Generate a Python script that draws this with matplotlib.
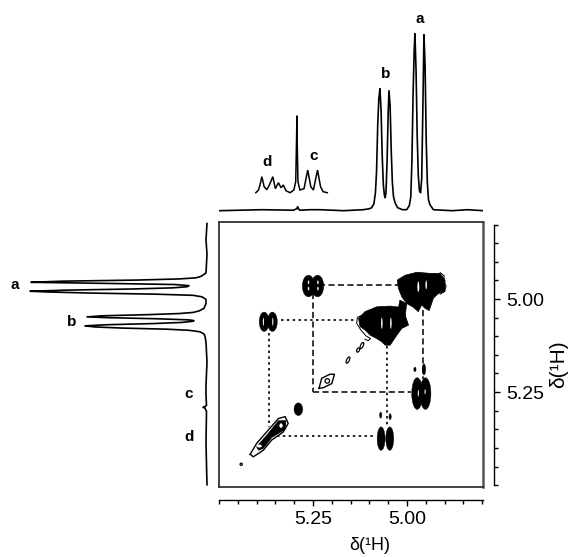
"""2D COSY spectrum with 1H projections on top and on the left."""

import matplotlib

matplotlib.use("Agg")
import matplotlib.pyplot as plt
from matplotlib.patches import Ellipse

plt.rcParams["font.family"] = ["Liberation Sans", "DejaVu Sans"]

W, H = 571, 557

# 1H trace, ppm / height
trace_ppm = [5.499, 5.444, 5.387, 5.302, 5.293, 5.291, 5.289, 5.285, 5.258, 5.231, 5.169, 5.116,
             5.100, 5.094, 5.088, 5.084, 5.081, 5.078, 5.075, 5.072, 5.069, 5.066, 5.063, 5.060, 5.058,
             5.056, 5.053, 5.050, 5.048, 5.045, 5.042, 5.039, 5.036, 5.032, 5.025, 5.012, 5.001,
             4.994, 4.990, 4.987, 4.984, 4.981, 4.979, 4.976, 4.973, 4.970, 4.967, 4.964, 4.961,
             4.958, 4.955, 4.952, 4.949, 4.946, 4.943, 4.939, 4.930, 4.880, 4.840, 4.797]
trace_int = [0, 0.5, 1, 0.5, 2, 4, 2, 0.5, 1, 1, 0, 1,
             2, 3, 7, 18, 40, 85, 112, 122, 100, 55, 26, 15, 13,
             18, 50, 100, 120, 105, 60, 28, 14, 8, 3, 1, 1,
             5, 14, 50, 115, 160, 177, 140, 75, 35, 20, 18, 32,
             100, 176, 145, 70, 28, 11, 6, 1, 0, 1, 0]

# expanded inset of signals c and d
inset_ppm = [5.402, 5.395, 5.391, 5.386, 5.380, 5.373, 5.366, 5.357, 5.350, 5.342, 5.335, 5.329,
             5.322, 5.311, 5.301, 5.296, 5.2935, 5.293, 5.2925, 5.290, 5.285, 5.274, 5.264,
             5.256, 5.249, 5.238, 5.230, 5.223, 5.212]
inset_int = [18, 20.7, 25.7, 34, 24, 21, 25.7, 34, 22, 28, 23, 25.7,
             20, 18, 20.7, 29, 77, 95, 77, 29, 20.7, 22, 40.7,
             24, 20.7, 40.7, 24, 19, 18]

# diagonal blobs, outlines in ppm
blob_a_x = [5.026, 5.005, 4.974, 4.939, 4.912, 4.899, 4.899, 4.917, 4.930, 4.941, 4.952, 4.961,
            4.970, 4.983, 5.001, 5.014, 5.023]
blob_a_y = [4.949, 4.936, 4.928, 4.931, 4.931, 4.949, 4.980, 4.985, 4.998, 5.031, 5.025, 5.016,
            5.034, 5.022, 5.012, 4.994, 4.971]
blob_b_x = [5.129, 5.112, 5.081, 5.045, 5.019, 5.005, 4.996, 5.014, 5.027, 5.045, 5.058, 5.067,
            5.081, 5.098, 5.112, 5.125]
blob_b_y = [5.052, 5.034, 5.021, 5.019, 5.022, 5.043, 5.070, 5.079, 5.097, 5.124, 5.124, 5.115,
            5.106, 5.097, 5.083, 5.074]
bridge_x = [5.019, 5.001, 5.005, 5.023]
bridge_y = [5.003, 5.012, 5.047, 5.025]
rim_x = [5.118, 5.132, 5.134, 5.123, 5.109, 5.097, 5.103, 5.112]
rim_y = [5.043, 5.049, 5.065, 5.083, 5.099, 5.106, 5.112, 5.108]
rim_a_x = [4.912, 4.901, 4.903, 4.896, 4.901, 4.912]
rim_a_y = [4.929, 4.938, 4.951, 4.965, 4.980, 4.987]

# contours on the diagonal
diag_c_x = [5.234, 5.227, 5.205, 5.193, 5.200, 5.222, 5.234]
diag_c_y = [5.240, 5.213, 5.202, 5.202, 5.227, 5.238, 5.240]
diag_d_x = [5.417, 5.400, 5.369, 5.342, 5.324, 5.316, 5.329, 5.360, 5.382, 5.409, 5.417]
diag_d_y = [5.417, 5.388, 5.352, 5.321, 5.316, 5.334, 5.357, 5.379, 5.406, 5.424, 5.417]
diag_d_fill_x = [5.400, 5.373, 5.342, 5.322, 5.324, 5.360, 5.382, 5.395]
diag_d_fill_y = [5.397, 5.366, 5.327, 5.327, 5.350, 5.372, 5.401, 5.406]

# solid lobes: f2 ppm, f1 ppm, width, height
lobe_x = [5.069, 5.046, 5.070, 5.045, 4.973, 4.951, 4.979, 4.955, 5.262, 5.238, 5.380, 5.358, 5.289]
lobe_y = [5.375, 5.375, 5.312, 5.316, 5.254, 5.254, 5.189, 5.189, 4.965, 4.965, 5.061, 5.061, 5.296]
lobe_w = [0.021, 0.021, 0.006, 0.006, 0.029, 0.029, 0.006, 0.009, 0.033, 0.033, 0.026, 0.026, 0.023]
lobe_h = [0.063, 0.063, 0.016, 0.016, 0.085, 0.085, 0.012, 0.030, 0.058, 0.058, 0.052, 0.052, 0.034]

# open contour rings: f2 ppm, f1 ppm, width, height
ring_x = [5.157, 5.130, 5.212, 5.441, 5.120]
ring_y = [5.164, 5.137, 5.220, 5.444, 5.125]
ring_w = [0.007, 0.007, 0.012, 0.006, 0.007]
ring_h = [0.018, 0.012, 0.012, 0.006, 0.018]

# white holes inside the black areas
hole_x = [4.970, 4.949, 5.067, 5.043, 4.970, 4.952, 5.262, 5.262, 5.237, 5.237, 5.335, 5.393, 5.382, 5.357]
hole_y = [4.967, 4.962, 5.065, 5.065, 5.253, 5.249, 4.955, 4.972, 4.955, 4.972, 5.340, 5.395, 5.061, 5.061]
hole_w = [0.005, 0.004, 0.004, 0.004, 0.003, 0.003, 0.004, 0.004, 0.004, 0.004, 0.009, 0.014, 0.003, 0.003]
hole_h = [0.028, 0.024, 0.030, 0.030, 0.018, 0.014, 0.010, 0.010, 0.010, 0.010, 0.012, 0.008, 0.022, 0.022]

# connectivity lines
dashed_x = [[5.235, 5.025], [5.250, 5.250], [5.250, 4.990], [4.958, 4.958]]
dashed_y = [[4.962, 4.962], [4.985, 5.250], [5.250, 5.250], [5.030, 5.215]]
dotted_x = [[5.335, 5.135], [5.367, 5.367], [5.345, 5.085], [5.053, 5.053]]
dotted_y = [[5.056, 5.056], [5.092, 5.345], [5.368, 5.368], [5.125, 5.340]]

major_ticks = [5.25, 5.00]
major_labels = ["5.25", "5.00"]
minor_ticks = [5.50, 5.45, 5.40, 5.35, 5.30, 5.20, 5.15, 5.10, 5.05, 4.95, 4.90, 4.85, 4.80]

top_labels = [("a", 420, 19), ("b", 386, 74), ("d", 267, 162), ("c", 314, 156)]
left_labels = [("a", 15, 285), ("b", 72, 322), ("c", 189, 394), ("d", 189, 437)]

XLIM = (5.50, 4.798)
YLIM = (5.505, 4.793)


def axes_px(fig, x0, y0, x1, y1, **kw):
    return fig.add_axes([x0 / W, 1 - y1 / H, (x1 - x0) / W, (y1 - y0) / H], **kw)


def ellipses(ax, xs, ys, ws, hs, **kw):
    for x, y, w, h in zip(xs, ys, ws, hs):
        ax.add_patch(Ellipse((x, y), w, h, **kw))


fig = plt.figure(figsize=(W / 100, H / 100), dpi=100)

# main 2D panel
ax = axes_px(fig, 219, 222, 483, 487)
ax.set_xlim(XLIM)
ax.set_ylim(YLIM)
ax.set_xticks([])
ax.set_yticks([])
for name, spine in ax.spines.items():
    spine.set_linewidth(1.3)
    spine.set_color("#333333" if name != "right" else "#555555")
ax.spines["right"].set_linewidth(1.8)

for xs, ys in zip(dashed_x, dashed_y):
    ax.plot(xs, ys, color="k", lw=1.1, ls=(0, (4, 2.2)))
for xs, ys in zip(dotted_x, dotted_y):
    ax.plot(xs, ys, color="k", lw=1.2, ls=(0, (1.5, 2)))

ax.fill(blob_a_x, blob_a_y, color="k", lw=0.5, zorder=3)
ax.fill(blob_b_x, blob_b_y, color="k", lw=0.5, zorder=3)
ax.fill(bridge_x, bridge_y, color="k", lw=0.5, zorder=3)
ax.plot(rim_x, rim_y, color="k", lw=0.7, zorder=3)
ax.plot(rim_a_x, rim_a_y, color="k", lw=0.7, zorder=3)
ax.plot(diag_c_x, diag_c_y, color="k", lw=1.0, zorder=3)
ax.plot(diag_d_x, diag_d_y, color="k", lw=1.0, zorder=3)
ax.fill(diag_d_fill_x, diag_d_fill_y, color="k", lw=0.5, zorder=3)
ellipses(ax, lobe_x, lobe_y, lobe_w, lobe_h, fc="k", ec="k", lw=0.3, zorder=3)
ellipses(ax, ring_x, ring_y, ring_w, ring_h, fc="none", ec="k", lw=0.9, angle=-25, zorder=3)
ellipses(ax, hole_x, hole_y, hole_w, hole_h, fc="white", ec="none", zorder=4)

# detached ppm scales
ax_scale = axes_px(fig, 219, 222, 483, 487)
ax_scale.patch.set_visible(False)
for name in ("top", "left"):
    ax_scale.spines[name].set_visible(False)
ax_scale.spines["bottom"].set_linewidth(1.0)
ax_scale.spines["right"].set_linewidth(1.0)
ax_scale.spines["bottom"].set_position(("outward", 9))
ax_scale.spines["right"].set_position(("outward", 8))
ax_scale.yaxis.tick_right()
ax_scale.set_xticks(major_ticks, major_labels, fontsize=14)
ax_scale.set_xticks(minor_ticks, minor=True)
ax_scale.set_yticks(major_ticks, major_labels, fontsize=14)
ax_scale.set_yticks(minor_ticks, minor=True)
ax_scale.tick_params(which="major", length=4.6, width=1.0, pad=4)
ax_scale.tick_params(which="minor", length=3.2, width=1.0)
ax_scale.set_xlim(XLIM)
ax_scale.set_ylim(YLIM)
ax_scale.spines["right"].set_bounds(5.50, 4.80)

fig.text(370 / W, 1 - 546 / H, "δ(¹H)", fontsize=13, ha="center", va="center")
fig.text(559 / W, 1 - 364 / H, "δ(¹H)", fontsize=15, ha="center", va="center", rotation=90)

# top projection
ax_top = axes_px(fig, 219, 0, 483, 222)
ax_top.axis("off")
ax_top.plot(trace_ppm, trace_int, color="k", lw=1.2, solid_joinstyle="round")
ax_top.plot(inset_ppm, inset_int, color="k", lw=1.1, solid_joinstyle="miter")
ax_top.set_xlim(XLIM)
ax_top.set_ylim(-11.3, 210.7)

# left projection, same trace turned on its side
ax_left = axes_px(fig, 0, 222, 217, 487)
ax_left.axis("off")
ax_left.plot(trace_int, trace_ppm, color="k", lw=1.2, solid_joinstyle="round")
ax_left.set_xlim(207, -10)
ax_left.set_ylim(YLIM)

for label, px, py in top_labels + left_labels:
    fig.text(px / W, 1 - py / H, label, fontsize=11, fontweight="bold", ha="center", va="center")

fig.savefig("out.png", dpi=100)
